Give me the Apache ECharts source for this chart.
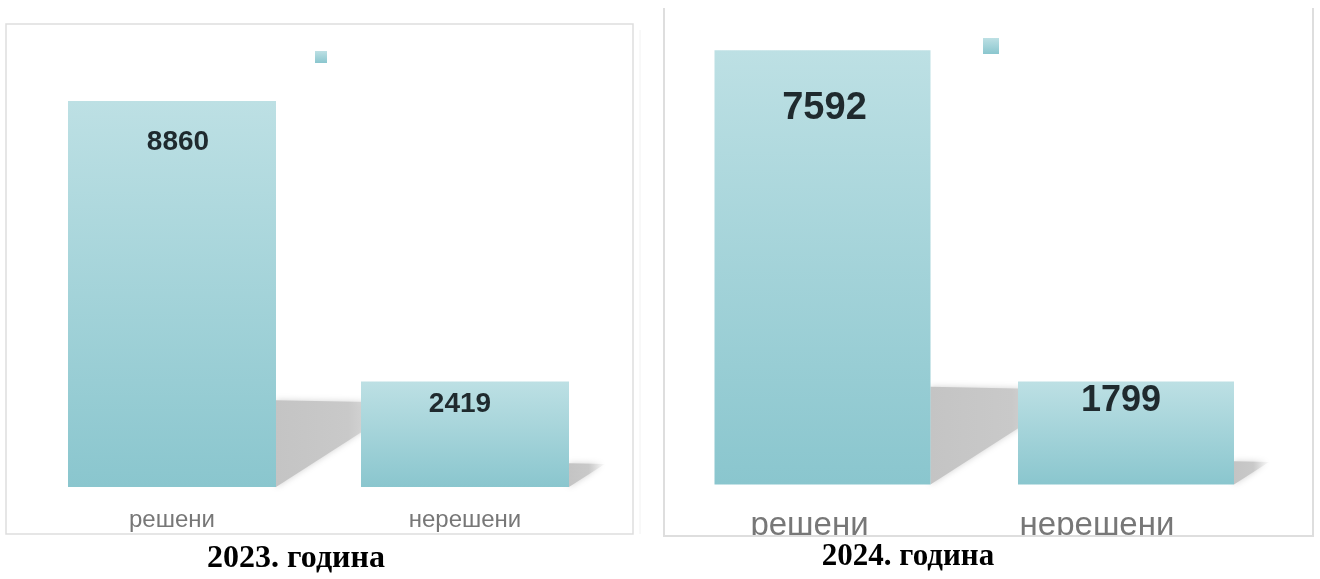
<!DOCTYPE html>
<html>
<head>
<meta charset="utf-8">
<script src="https://cdn.jsdelivr.net/npm/echarts@6/dist/echarts.min.js"></script>
<style>
html,body{margin:0;padding:0;background:#fff;}
#c{width:1320px;height:579px;}
</style>
</head>
<body>
<div id="c"></div>
<script>
const categories = ['решени', 'нерешени'];
const values2023 = [8860, 2419];
const values2024 = [7592, 1799];
const titles = ['2023. година', '2024. година'];

const chart = echarts.init(document.getElementById('c'));

function barGrad() {
  return new echarts.graphic.LinearGradient(0, 0, 0, 1, [
    { offset: 0, color: '#bde0e4' },
    { offset: 1, color: '#8ac6ce' }
  ]);
}
function shadowGrad() {
  return new echarts.graphic.LinearGradient(0, 0, 1, 0, [
    { offset: 0, color: '#c4c4c4' },
    { offset: 0.55, color: '#c9c9c9' },
    { offset: 1, color: 'rgba(225,225,225,0.15)' }
  ]);
}
function shadowSeries(idx, values, bw) {
  return {
    type: 'custom',
    xAxisIndex: idx, yAxisIndex: idx,
    z: 1, silent: true,
    data: values.map((v, i) => [i, v]),
    renderItem: function (params, api) {
      const i = api.value(0), v = api.value(1);
      const base = api.coord([i, 0]);
      const top = api.coord([i, v]);
      const h = base[1] - top[1];
      const R = base[0] + bw / 2;
      const B = base[1];
      return {
        type: 'polygon',
        shape: { points: [[R, B], [R, B - 0.225 * h], [R + 0.34 * h, B - 0.218 * h]] },
        style: { fill: shadowGrad(), shadowBlur: 6, shadowColor: 'rgba(190,190,190,0.7)' }
      };
    }
  };
}

const bw1 = 208, bw2 = 216;
const labelFont = 'Liberation Sans';

const option = {
  animation: false,
  backgroundColor: '#fff',
  legend: [
    { data: ['s2023'], left: 315, top: 51, padding: 0, itemWidth: 12, itemHeight: 12, icon: 'rect', formatter: () => ' ', selectedMode: false },
    { data: ['s2024'], left: 983, top: 38, padding: 0, itemWidth: 16, itemHeight: 16, icon: 'rect', formatter: () => ' ', selectedMode: false }
  ],
  grid: [
    { left: 25.5, top: 51.3, width: 586, height: 435.7 },
    { left: 670.75, top: 26.9, width: 607, height: 457.6 }
  ],
  xAxis: [
    {
      gridIndex: 0, type: 'category', data: categories,
      axisLine: { show: false }, axisTick: { show: false },
      axisLabel: { color: '#777', fontSize: 24, fontFamily: labelFont, margin: 21 }
    },
    {
      gridIndex: 1, type: 'category', data: categories,
      axisLine: { show: false }, axisTick: { show: false },
      axisLabel: {
        color: '#777', fontSize: 33, fontFamily: labelFont, margin: 25,
        formatter: (v, i) => (i === 0 ? '{a|' + v + '}' : '{b|' + v + '}'),
        rich: {
          a: { fontSize: 33, color: '#777', fontFamily: labelFont, padding: [0, 26, 0, 0] },
          b: { fontSize: 33, color: '#777', fontFamily: labelFont, padding: [0, 58, 0, 0] }
        }
      }
    }
  ],
  yAxis: [
    { gridIndex: 0, type: 'value', min: 0, max: 10000, show: false, splitLine: { show: false } },
    { gridIndex: 1, type: 'value', min: 0, max: 8000, show: false, splitLine: { show: false } }
  ],
  series: [
    shadowSeries(0, values2023, bw1),
    shadowSeries(1, values2024, bw2),
    {
      name: 's2023', type: 'bar', xAxisIndex: 0, yAxisIndex: 0, z: 2,
      barWidth: bw1,
      itemStyle: { color: barGrad() },
      label: {
        show: true, color: '#1f2a2e', fontSize: 28, fontWeight: 'bold', fontFamily: labelFont,
        align: 'center', verticalAlign: 'middle'
      },
      data: values2023.map((v, i) => ({
        value: v,
        label: { position: ['50%', [41, 23][i]], offset: [[6, -5][i], 0] }
      }))
    },
    {
      name: 's2024', type: 'bar', xAxisIndex: 1, yAxisIndex: 1, z: 2,
      barWidth: bw2,
      itemStyle: { color: barGrad() },
      label: {
        show: true, color: '#1f2a2e', fontWeight: 'bold', fontFamily: labelFont,
        align: 'center', verticalAlign: 'middle'
      },
      data: values2024.map((v, i) => ({
        value: v,
        label: { fontSize: [38, 36][i], position: ['50%', [58, 19][i]], offset: [[2, -5][i], 0] }
      }))
    }
  ],
  graphic: [
    {
      type: 'rect', z: 100, silent: true,
      shape: { x: 6, y: 24, width: 627, height: 510 },
      style: { fill: 'none', stroke: '#dedede', lineWidth: 1.5 }
    },
    {
      type: 'line', z: 100, silent: true,
      shape: { x1: 640, y1: 30, x2: 640, y2: 534 },
      style: { stroke: '#f2f2f2', lineWidth: 1 }
    },
    {
      type: 'rect', z: 100, silent: true,
      shape: { x: 664, y: 537, width: 656, height: 42 },
      style: { fill: '#fff' }
    },
    {
      type: 'polyline', z: 101, silent: true,
      shape: { points: [[664, 8], [664, 536], [1313, 536], [1313, 8]] },
      style: { fill: 'none', stroke: '#dedede', lineWidth: 2 }
    },
    {
      type: 'text', z: 102, silent: true,
      style: {
        text: titles[0], x: 296, y: 559, textAlign: 'center', textVerticalAlign: 'middle',
        font: 'bold 32px "Liberation Serif"', fill: '#000'
      }
    },
    {
      type: 'text', z: 102, silent: true,
      style: {
        text: titles[1], x: 908, y: 557, textAlign: 'center', textVerticalAlign: 'middle',
        font: 'bold 31px "Liberation Serif"', fill: '#000'
      }
    }
  ]
};
chart.setOption(option);
</script>
</body>
</html>
